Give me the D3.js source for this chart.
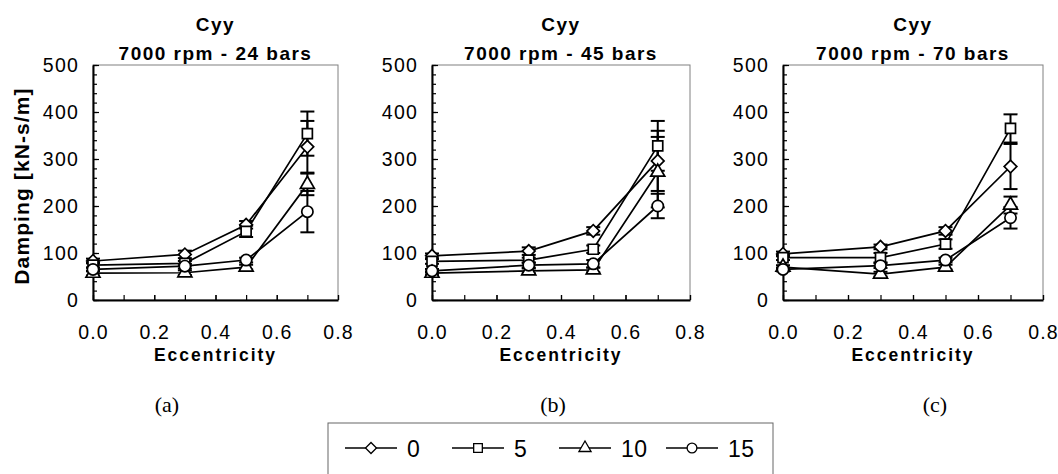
<!DOCTYPE html>
<html>
<head>
<meta charset="utf-8">
<script src="https://cdn.jsdelivr.net/npm/d3@7"></script>
<style>
body { margin: 0; background: #fff; }
svg text { font-family: "Liberation Sans", Arial, sans-serif; fill: #000; }
</style>
</head>
<body>
<svg id="chart" width="1058" height="474"></svg>
<script>
// eccentricity values where the damping was measured
const ecc = [0, 0.3, 0.5, 0.7];
const seriesNames = ["0", "5", "10", "15"];
const panelTitles = ["7000 rpm - 24 bars", "7000 rpm - 45 bars", "7000 rpm - 70 bars"];
const panelCaptions = ["(a)", "(b)", "(c)"];
const yTicks = [0, 100, 200, 300, 400, 500];
const xTicks = [0, 0.2, 0.4, 0.6, 0.8];

// Cyy damping [kN-s/m], one row per series (0, 5, 10, 15)
const cyy24 = [[83, 97, 160, 326], [74, 78, 146, 354], [57, 58, 70, 246], [65, 72, 85, 188]];
const cyy45 = [[94, 104, 147, 296], [82, 85, 108, 328], [57, 62, 64, 272], [62, 74, 77, 200]];
const cyy70 = [[98, 113, 147, 284], [90, 90, 119, 365], [70, 55, 70, 202], [65, 73, 85, 175]];
// error bar half heights
const err24 = [[5, 8, 8, 55], [5, 5, 12, 47], [5, 5, 5, 23], [4, 5, 5, 44]];
const err45 = [[5, 8, 8, 64], [5, 5, 8, 53], [4, 5, 5, 75], [4, 5, 8, 26]];
const err70 = [[5, 5, 8, 48], [5, 10, 10, 30], [4, 5, 5, 18], [4, 5, 5, 23]];

const svg = d3.select("#chart");
const plotTop = 65, plotBottom = 300;

const panels = [
    {vals: cyy24, errs: err24, left: 93, right: 338, capX: 167},
    {vals: cyy45, errs: err45, left: 432, right: 690, capX: 553},
    {vals: cyy70, errs: err70, left: 783, right: 1043, capX: 935}
];

// marker shapes: diamond, square, triangle, circle
function markerPath(i, k) {
    if (i == 0) return d3.symbol(d3.symbolSquare, 80 * k)();
    if (i == 1) return d3.symbol(d3.symbolSquare, 100 * k)();
    if (i == 2) return d3.symbol(d3.symbolTriangle, 85 * k)();
    return d3.symbol(d3.symbolCircle, 100 * k)();
}
function markerRot(i) { return i == 0 ? " rotate(45)" : ""; }

panels.forEach((p, pi) => {
    const x = d3.scaleLinear().domain([0, 0.8]).range([p.left, p.right]);
    const y = d3.scaleLinear().domain([0, 500]).range([plotBottom, plotTop]);
    const g = svg.append("g");

    // frame
    g.append("rect")
        .attr("x", p.left).attr("y", plotTop)
        .attr("width", p.right - p.left).attr("height", plotBottom - plotTop)
        .attr("fill", "none").attr("stroke", "#808080").attr("stroke-width", 1);

    // minor ticks
    g.append("g").attr("transform", `translate(${p.left},0)`)
        .call(d3.axisLeft(y).ticks(25).tickSize(-4).tickFormat(""))
        .call(a => a.select(".domain").remove())
        .call(a => a.selectAll("line").attr("stroke", "#000").attr("stroke-width", 1.2));
    g.append("g").attr("transform", `translate(0,${plotBottom})`)
        .call(d3.axisBottom(x).ticks(8).tickSize(-5).tickFormat(""))
        .call(a => a.select(".domain").remove())
        .call(a => a.selectAll("line").attr("stroke", "#000").attr("stroke-width", 1.2));

    // labelled axes
    const ya = g.append("g").attr("transform", `translate(${p.left},0)`)
        .call(d3.axisLeft(y).tickValues(yTicks).tickSize(-6).tickSizeOuter(0).tickPadding(14));
    const xa = g.append("g").attr("transform", `translate(0,${plotBottom})`)
        .call(d3.axisBottom(x).tickValues(xTicks).tickSize(-5).tickSizeOuter(0).tickPadding(25)
            .tickFormat(d3.format(".1f")));
    [ya, xa].forEach(a => {
        a.select(".domain").attr("stroke", "#000").attr("stroke-width", 2);
        a.selectAll("line").attr("stroke", "#000").attr("stroke-width", 1.2);
        a.selectAll("text").attr("font-size", 19.5).attr("letter-spacing", "1.2px")
            .style("font-family", '"Liberation Sans", Arial, sans-serif');
    });

    // titles
    g.append("text").attr("x", (p.left + p.right) / 2).attr("y", 31)
        .attr("text-anchor", "middle").attr("font-size", 19).attr("font-weight", "bold")
        .attr("letter-spacing", "1.5px").text("Cyy");
    g.append("text").attr("x", (p.left + p.right) / 2).attr("y", 59.5)
        .attr("text-anchor", "middle").attr("font-size", 19).attr("font-weight", "bold")
        .attr("letter-spacing", "1.5px").text(panelTitles[pi]);
    g.append("text").attr("x", (p.left + p.right) / 2).attr("y", 360.5)
        .attr("text-anchor", "middle").attr("font-size", 17.5).attr("font-weight", "bold")
        .attr("letter-spacing", "2px").text("Eccentricity");
    g.append("text").attr("x", p.capX).attr("y", 412)
        .attr("text-anchor", "middle").attr("font-size", 22)
        .style("font-family", '"Liberation Serif", "Times New Roman", serif')
        .text(panelCaptions[pi]);

    const line = d3.line().x((d, i) => x(ecc[i])).y(d => y(d));

    // series lines
    p.vals.forEach(v => {
        g.append("path").datum(v).attr("d", line)
            .attr("fill", "none").attr("stroke", "#000").attr("stroke-width", 1.7);
    });

    // error bars
    p.vals.forEach((v, si) => {
        v.forEach((d, i) => {
            const e = p.errs[si][i];
            const cx = x(ecc[i]);
            g.append("line").attr("x1", cx).attr("x2", cx)
                .attr("y1", y(d - e)).attr("y2", y(d + e))
                .attr("stroke", "#000").attr("stroke-width", 2);
            [d - e, d + e].forEach(c => {
                g.append("line").attr("x1", cx - 7).attr("x2", cx + 7)
                    .attr("y1", y(c)).attr("y2", y(c))
                    .attr("stroke", "#000").attr("stroke-width", 2);
            });
        });
    });

    // markers
    p.vals.forEach((v, si) => {
        g.selectAll(null).data(v).join("path")
            .attr("d", markerPath(si, 1))
            .attr("transform", (d, i) => `translate(${x(ecc[i])},${y(d)})` + markerRot(si))
            .attr("fill", "#fff").attr("stroke", "#000").attr("stroke-width", 1.7);
    });
});

// y axis label
svg.append("text")
    .attr("transform", "translate(29,186) rotate(-90)")
    .attr("text-anchor", "middle").attr("font-size", 21).attr("font-weight", "bold")
    .attr("letter-spacing", "1.1px").text("Damping [kN-s/m]");

// legend
const legend = svg.append("g");
legend.append("rect").attr("x", 328).attr("y", 423).attr("width", 445).attr("height", 70)
    .attr("fill", "#fff").attr("stroke", "#666").attr("stroke-width", 1);
seriesNames.forEach((s, i) => {
    const lx = 345 + i * 107, ly = 448;
    legend.append("line").attr("x1", lx).attr("x2", lx + 52).attr("y1", ly).attr("y2", ly)
        .attr("stroke", "#000").attr("stroke-width", 1.5);
    legend.append("path").attr("d", markerPath(i, 0.75))
        .attr("transform", `translate(${lx + 26},${ly})` + markerRot(i))
        .attr("fill", "#fff").attr("stroke", "#000").attr("stroke-width", 1.3);
    legend.append("text").attr("x", lx + 62).attr("y", ly + 8.5)
        .attr("font-size", 23).attr("letter-spacing", "0.5px").text(s);
});
</script>
</body>
</html>
